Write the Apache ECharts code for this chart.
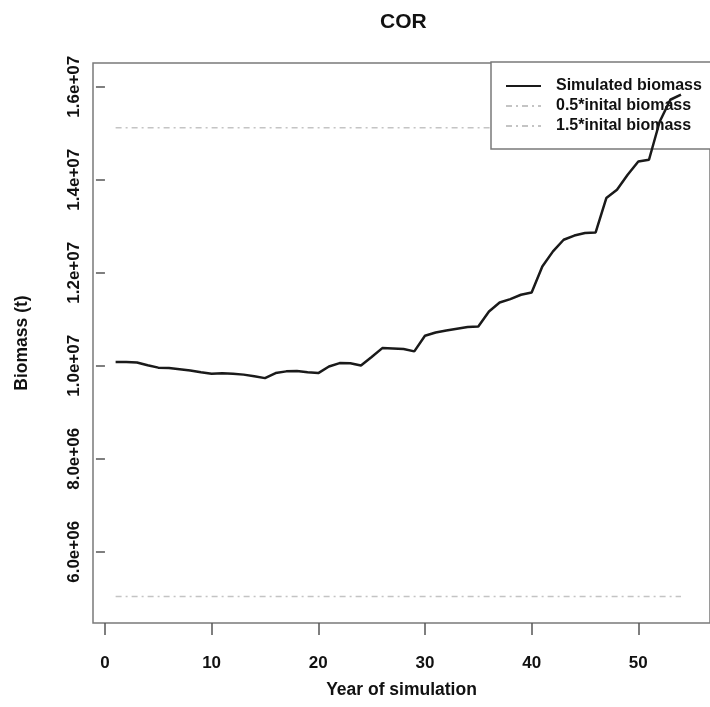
<!DOCTYPE html>
<html>
<head>
<meta charset="utf-8">
<script src="https://cdn.jsdelivr.net/npm/echarts@6/dist/echarts.min.js"></script>
<style>
html,body{margin:0;padding:0;background:#fff;}
#chart{width:710px;height:707px;}
</style>
</head>
<body>
<div id="chart"></div>
<script>
// ---- data ----
const years = [1,2,3,4,5,6,7,8,9,10,11,12,13,14,15,16,17,18,19,20,21,22,23,24,25,26,27,28,29,30,31,32,33,34,35,36,37,38,39,40,41,42,43,44,45,46,47,48,49,50,51,52,53,54];
const simulatedBiomass = [
  1.008e7,1.008e7,1.007e7,1.001e7,0.996e7,0.995e7,0.9925e7,0.990e7,0.986e7,0.983e7,
  0.984e7,0.983e7,0.981e7,0.9775e7,0.9735e7,0.9843e7,0.988e7,0.9886e7,0.986e7,0.9843e7,
  0.9985e7,1.0058e7,1.0054e7,1.0006e7,1.019e7,1.038e7,1.0372e7,1.036e7,1.031e7,1.0645e7,
  1.0716e7,1.076e7,1.0796e7,1.0832e7,1.0845e7,1.1168e7,1.136e7,1.1434e7,1.1527e7,1.1576e7,
  1.2135e7,1.246e7,1.271e7,1.28e7,1.2854e7,1.2867e7,1.3606e7,1.3785e7,1.4108e7,1.4394e7,
  1.443e7,1.5247e7,1.572e7,1.5828e7
];
const refYears = [1, 54];
const halfInitial = [5.04e6, 5.04e6];
const oneAndHalfInitial = [1.512e7, 1.512e7];
const seriesNames = ['Simulated biomass', '0.5*inital biomass', '1.5*inital biomass'];
const xTickValues = [0,10,20,30,40,50];
const yTickValues = [6e6, 8e6, 1e7, 1.2e7, 1.4e7, 1.6e7];
const yTickLabels = ['6.0e+06','8.0e+06','1.0e+07','1.2e+07','1.4e+07','1.6e+07'];

const pairs = (xs, ys) => xs.map((x, i) => [x, ys[i]]);
const FONT = 'Liberation Sans, Arial, sans-serif';

const chart = echarts.init(document.getElementById('chart'), null, {renderer: 'canvas'});
chart.setOption({
  backgroundColor: '#ffffff',
  animation: false,
  title: {
    text: 'COR', left: 380, top: 12, padding: 0,
    textStyle: {fontFamily: FONT, fontSize: 21, fontWeight: 'bold', color: '#111'}
  },
  grid: {
    left: 93, top: 63, width: 620, height: 560,
    show: true, borderColor: '#7a7a7a', borderWidth: 1.5, backgroundColor: 'transparent'
  },
  legend: {
    data: seriesNames,
    orient: 'vertical',
    left: 491, top: 62,
    z: 3,
    backgroundColor: '#ffffff',
    borderColor: '#7a7a7a', borderWidth: 1.5, borderRadius: 0,
    padding: [16, 30, 15, 14],
    itemWidth: 35, itemHeight: 16, itemGap: 4,
    selectedMode: false,
    itemStyle: {opacity: 0},
    textStyle: {fontFamily: FONT, fontSize: 16, fontWeight: 'bold', color: '#111', padding: [0,0,0,10]}
  },
  xAxis: {
    type: 'value', min: -1.12, max: 56.72,
    name: 'Year of simulation', nameLocation: 'middle', nameGap: 58,
    nameTextStyle: {fontFamily: FONT, fontSize: 17.5, fontWeight: 'bold', color: '#111'},
    axisLine: {show: false},
    axisTick: {show: true, customValues: xTickValues, length: 12, lineStyle: {color: '#555', width: 1.5}},
    axisLabel: {customValues: xTickValues, margin: 32, fontFamily: FONT, fontSize: 17, fontWeight: 'bold', color: '#111'},
    splitLine: {show: false}
  },
  yAxis: {
    type: 'value', min: 4.47e6, max: 1.651e7,
    name: 'Biomass (t)', nameLocation: 'middle', nameGap: 62, nameRotate: 90,
    nameTextStyle: {fontFamily: FONT, fontSize: 17.5, fontWeight: 'bold', color: '#111'},
    axisLine: {show: false},
    axisTick: {show: true, customValues: yTickValues, length: 9, lineStyle: {color: '#555', width: 1.5}},
    axisLabel: {
      customValues: yTickValues, rotate: 90, margin: 10,
      fontFamily: FONT, fontSize: 17, fontWeight: 'bold', color: '#111',
      formatter: v => { const i = yTickValues.indexOf(v); return i >= 0 ? yTickLabels[i] : ''; }
    },
    splitLine: {show: false}
  },
  series: [
    {
      name: seriesNames[0], type: 'line', z: 5,
      data: pairs(years, simulatedBiomass),
      symbol: 'none', showSymbol: false,
      lineStyle: {color: '#1a1a1a', width: 2.5},
      itemStyle: {color: '#1a1a1a'}
    },
    {
      name: seriesNames[1], type: 'line', z: 2,
      data: pairs(refYears, halfInitial),
      symbol: 'none', showSymbol: false,
      lineStyle: {color: '#c4c4c4', width: 1.5, type: [6, 4, 2, 4]},
      itemStyle: {color: '#c4c4c4'}
    },
    {
      name: seriesNames[2], type: 'line', z: 2,
      data: pairs(refYears, oneAndHalfInitial),
      symbol: 'none', showSymbol: false,
      lineStyle: {color: '#c4c4c4', width: 1.5, type: [6, 4, 2, 4]},
      itemStyle: {color: '#c4c4c4'}
    }
  ]
});
</script>
</body>
</html>
